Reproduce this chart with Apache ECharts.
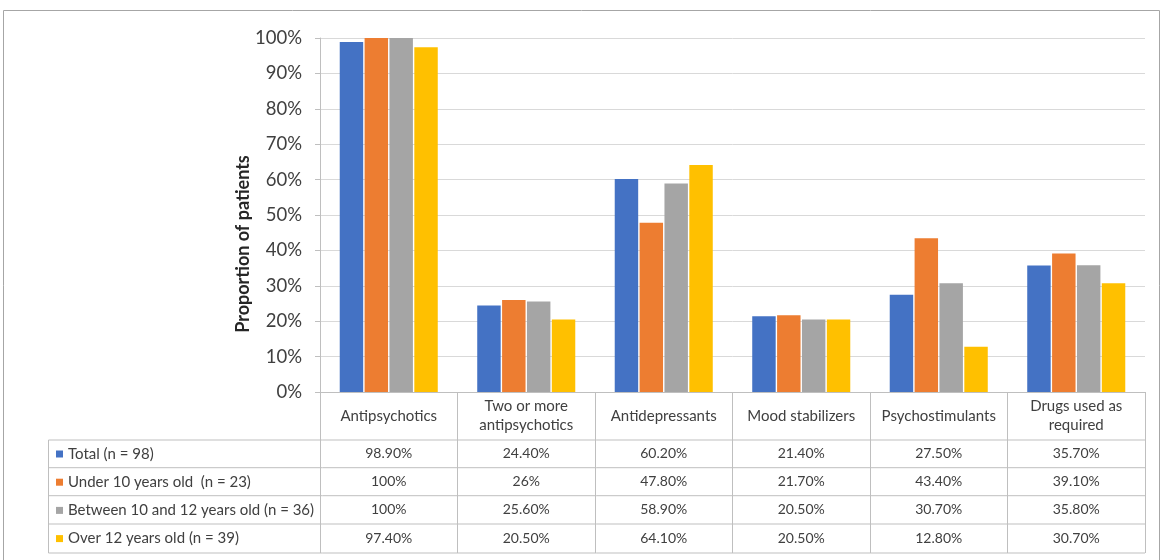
<!DOCTYPE html>
<html>
<head>
<meta charset="utf-8">
<script src="https://cdn.jsdelivr.net/npm/echarts@6/dist/echarts.min.js"></script>
<style>
  html, body { margin: 0; padding: 0; background: #fff; }
  #chart { width: 1165px; height: 560px; }
</style>
</head>
<body>
<div id="chart"></div>
<script>
// Medication classes (x categories) and the four patient groups
const categories = ['Antipsychotics', 'Two or more\nantipsychotics', 'Antidepressants', 'Mood stabilizers', 'Psychostimulants', 'Drugs used as\nrequired'];
const groupNames = ['Total (n = 98)', 'Under 10 years old  (n = 23)', 'Between 10 and 12 years old (n = 36)', 'Over 12 years old (n = 39)'];

// Share of patients (%) per medication class
const total = [98.9, 24.4, 60.2, 21.4, 27.5, 35.7];
const under10 = [100, 26, 47.8, 21.7, 43.4, 39.1];
const between10and12 = [100, 25.6, 58.9, 20.5, 30.7, 35.8];
const over12 = [97.4, 20.5, 64.1, 20.5, 12.8, 30.7];

const groups = [total, under10, between10and12, over12];
const colors = ['#4472C4', '#ED7D31', '#A5A5A5', '#FFC000'];

const FONT = 'Lato, "Liberation Sans", sans-serif';
const TEXT = '#404040';
const LINE = '#bfbfbf';

// Plot area and data-table geometry
const plotLeft = 320, plotRight = 1145, plotTop = 38, plotBottom = 392;
const tableLeft = 48.5;
const rowLines = [440, 467.7, 495.7, 524, 553];

function pct(v) {
  return (Number.isInteger(v) ? String(v) : v.toFixed(2)) + '%';
}

// One hidden axis per data-table row: its labels print that group's values
const tableAxes = groups.map((vals, k) => ({
  type: 'category',
  gridIndex: 0,
  position: 'bottom',
  data: categories,
  offset: (rowLines[k] + rowLines[k + 1]) / 2 - plotBottom,
  axisLine: { show: false },
  axisTick: { show: false },
  axisLabel: {
    margin: 0,
    verticalAlign: 'middle',
    interval: 0,
    fontFamily: FONT,
    fontSize: 14,
    color: TEXT,
    formatter: (val, idx) => pct(vals[idx])
  }
}));

const chart = echarts.init(document.getElementById('chart'), null, { renderer: 'canvas' });

chart.setOption({
  animation: false,
  backgroundColor: '#fff',
  color: colors,
  grid: {
    left: plotLeft,
    right: 1165 - plotRight,
    top: plotTop,
    bottom: 560 - plotBottom,
    containLabel: false
  },
  legend: {
    orient: 'vertical',
    left: 56,
    top: 446,
    padding: 0,
    itemWidth: 7,
    itemHeight: 7,
    itemGap: 12.2,
    icon: 'rect',
    selectedMode: false,
    data: groupNames,
    textStyle: { fontFamily: FONT, fontSize: 15, color: TEXT, lineHeight: 16 }
  },
  xAxis: [
    {
      type: 'category',
      data: categories,
      axisLine: { lineStyle: { color: LINE, width: 1 } },
      axisTick: { show: true, length: rowLines[4] - plotBottom, lineStyle: { color: LINE } },
      axisLabel: {
        interval: 0,
        margin: 24,
        verticalAlign: 'middle',
        fontFamily: FONT,
        fontSize: 15,
        lineHeight: 19,
        color: TEXT
      }
    },
    ...tableAxes
  ],
  yAxis: {
    type: 'value',
    min: 0,
    max: 100,
    interval: 10,
    name: 'Proportion of patients',
    nameLocation: 'middle',
    nameGap: 68,
    nameMoveOverlap: false,
    nameRotate: 90,
    // title sits a little below the plot's mid-height
    nameTextStyle: { fontFamily: FONT, fontSize: 18, fontWeight: 'bold', color: '#262626', padding: [0, 58, 0, 0] },
    axisLine: { show: true, lineStyle: { color: LINE } },
    axisTick: { show: true, length: 5, lineStyle: { color: LINE } },
    axisLabel: {
      margin: 18,
      fontFamily: FONT,
      fontSize: 18.5,
      color: TEXT,
      formatter: '{value}%'
    },
    splitLine: { lineStyle: { color: '#d9d9d9' } }
  },
  series: groups.map((vals, k) => ({
    name: groupNames[k],
    type: 'bar',
    data: vals,
    barGap: '6%',
    barCategoryGap: '28.7%',
    itemStyle: { color: colors[k] }
  })),
  graphic: [
    // outer frame
    {
      type: 'rect',
      shape: { x: 3.5, y: 10.5, width: 1156, height: 560 },
      style: { fill: null, stroke: '#a6a6a6', lineWidth: 1 },
      silent: true
    },
    // left edge of the legend column
    {
      type: 'line',
      shape: { x1: tableLeft, y1: rowLines[0], x2: tableLeft, y2: rowLines[4] },
      style: { stroke: LINE, lineWidth: 1 },
      silent: true
    },
    // horizontal rules of the data table
    ...rowLines.map(y => ({
      type: 'line',
      shape: { x1: tableLeft, y1: y, x2: plotRight, y2: y },
      style: { stroke: LINE, lineWidth: 1 },
      silent: true
    }))
  ]
});
</script>
</body>
</html>
